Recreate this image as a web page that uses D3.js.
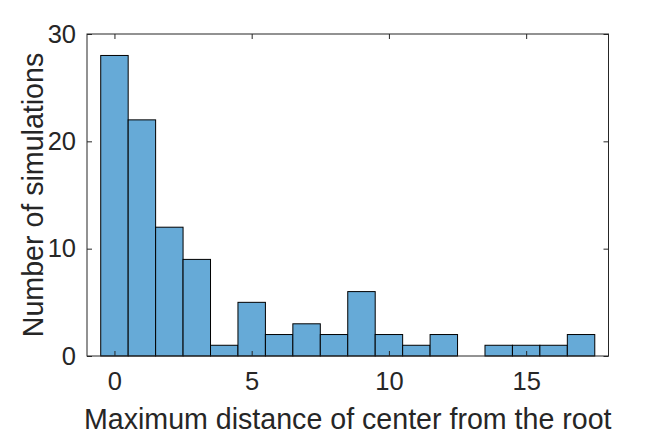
<!DOCTYPE html>
<html>
<head>
<meta charset="utf-8">
<script src="https://cdn.jsdelivr.net/npm/d3@7"></script>
<style>
  body { margin: 0; background: #fff; }
  text { font-family: "Liberation Sans", Arial, sans-serif; fill: #262626; }
</style>
</head>
<body>
<div id="chart"></div>
<script>
// histogram bins: edges and counts
var binEdges = [-0.5, 0.5, 1.5, 2.5, 3.5, 4.5, 5.5, 6.5, 7.5, 8.5, 9.5, 10.5, 11.5, 12.5, 13.5, 14.5, 15.5, 16.5, 17.5];
var counts = [28, 22, 12, 9, 1, 5, 2, 3, 2, 6, 2, 1, 2, 0, 1, 1, 1, 2];
var xTicks = [0, 5, 10, 15];
var yTicks = [0, 10, 20, 30];

(function() {
   var width = 672, height = 437;
   var m = { left: 87, right: 608.5, top: 34, bottom: 356 };
   var ink = '#262626';
   var tickLen = 5;
   var tickFont = 25.5, labelFont = 28.6;

   var svg = d3.select('#chart').append('svg')
       .attr('width', width)
       .attr('height', height);

   var x = d3.scaleLinear().domain([-1, 18]).range([m.left, m.right]);
   var y = d3.scaleLinear().domain([0, 30]).range([m.bottom, m.top]);

   var bins = counts.map(function(c, i) {
       return { x0: binEdges[i], x1: binEdges[i + 1], n: c };
   });

   svg.append('g')
       .attr('class', 'bars')
     .selectAll('rect')
     .data(bins.filter(function(d) { return d.n > 0; }))
     .enter().append('rect')
       .attr('x', function(d) { return x(d.x0); })
       .attr('y', function(d) { return y(d.n); })
       .attr('width', function(d) { return x(d.x1) - x(d.x0); })
       .attr('height', function(d) { return y(0) - y(d.n); })
       .attr('fill', '#66aad7')
       .attr('stroke', '#000')
       .attr('stroke-width', 1);

   // box
   svg.append('rect')
       .attr('x', m.left).attr('y', m.top)
       .attr('width', m.right - m.left).attr('height', m.bottom - m.top)
       .attr('fill', 'none')
       .attr('stroke', ink)
       .attr('stroke-width', 1);

   // axes, ticks pointing inward
   var xAxis = d3.axisBottom(x).tickValues(xTicks).tickSize(-tickLen).tickPadding(16);
   var xTop = d3.axisTop(x).tickValues(xTicks).tickSize(-tickLen).tickFormat('');
   var yAxis = d3.axisLeft(y).tickValues(yTicks).tickSize(-tickLen).tickPadding(11);
   var yRight = d3.axisRight(y).tickValues(yTicks).tickSize(-tickLen).tickFormat('');

   function style(g) {
       g.select('.domain').remove();
       g.selectAll('line').attr('stroke', ink);
       g.selectAll('text').attr('font-size', tickFont).attr('fill', ink)
           .style('font-family', '"Liberation Sans", Arial, sans-serif');
   }

   svg.append('g').attr('transform', 'translate(0,' + m.bottom + ')').call(xAxis).call(style);
   svg.append('g').attr('transform', 'translate(0,' + m.top + ')').call(xTop).call(style);
   svg.append('g').attr('transform', 'translate(' + m.left + ',0)').call(yAxis).call(style);
   svg.append('g').attr('transform', 'translate(' + m.right + ',0)').call(yRight).call(style);

   svg.append('text')
       .attr('x', (m.left + m.right) / 2)
       .attr('y', 429)
       .attr('text-anchor', 'middle')
       .attr('font-size', labelFont)
       .text('Maximum distance of center from the root');

   svg.append('text')
       .attr('transform', 'translate(43,' + (m.top + m.bottom) / 2 + ') rotate(-90)')
       .attr('text-anchor', 'middle')
       .attr('font-size', labelFont)
       .text('Number of simulations');
})();
</script>
</body>
</html>
